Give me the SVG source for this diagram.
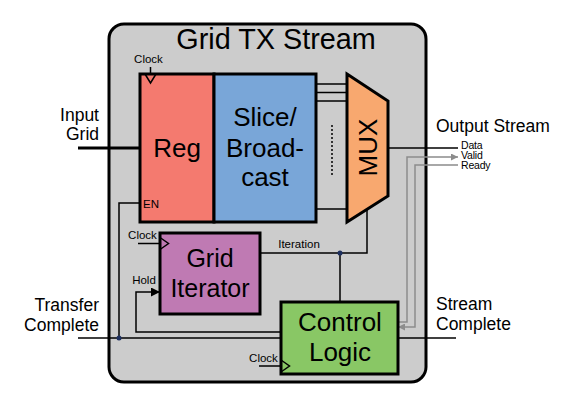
<svg xmlns="http://www.w3.org/2000/svg" width="570" height="413" viewBox="0 0 570 413">
<style>
text{font-family:"Liberation Sans",Arial,sans-serif;fill:#000}
.big{font-size:26px;text-anchor:middle}
.mid{font-size:17.5px}
.sm{font-size:11.5px}
.tiny{font-size:10.5px}
.box{stroke:#000;stroke-width:3}
.w{fill:none;stroke:#000;stroke-width:1.5}
.g{fill:none;stroke:#8c8c8c;stroke-width:1.5}
.clk{fill:none;stroke:#000;stroke-width:1.5}
</style>
<defs>
<marker id="ab" viewBox="0 0 10 10" refX="10" refY="5" markerWidth="10" markerHeight="9" markerUnits="userSpaceOnUse" orient="auto"><path d="M0,0 L10,5 L0,10 Z" fill="#000"/></marker>
<marker id="ag" viewBox="0 0 10 10" refX="10" refY="5" markerWidth="8" markerHeight="7" markerUnits="userSpaceOnUse" orient="auto"><path d="M0,0 L10,5 L0,10 Z" fill="#8c8c8c"/></marker>
</defs>
<g id="outer">
<rect x="109" y="24" width="317" height="358" rx="15" fill="#cccccc" stroke="#000" stroke-width="3"/>
<text x="276" y="49" style="font-size:28.8px;text-anchor:middle">Grid TX Stream</text>
</g>
<g id="connectors">
<path class="w" d="M78,148 H140" style="stroke-width:3"/>
<path class="w" d="M316,84 H347 M316,92.5 H347 M316,101 H347 M316,209 H347"/>
<path class="w" d="M332,125 V175" stroke-dasharray="2,2"/>
<path class="w" d="M388,148 H458"/>
<path class="g" d="M398,322 H407 V157 H458" marker-end="url(#ag)"/>
<path class="g" d="M458,165 H415 V327 H398" marker-end="url(#ag)"/>
<path class="w" d="M140,203 H119 V338"/>
<path class="w" d="M78,338 H281"/>
<path class="w" d="M281,332 H136 V292 H160" marker-end="url(#ab)"/>
<path class="w" d="M260,253 H367 V209.5"/>
<path class="w" d="M340,253 V302"/>
<path class="w" d="M398,338 H456"/>
<path class="w" d="M150.5,67 V74"/>
<path class="w" d="M138,243.5 H160"/>
<path class="w" d="M259,366 H281"/>
<circle cx="119" cy="338" r="2.5" fill="#1d2f5e"/>
<circle cx="340" cy="253" r="2.5" fill="#1d2f5e"/>
</g>
<g id="reg">
<rect class="box" x="140" y="74" width="74" height="148" fill="#f47a6f"/>
<path class="clk" d="M145,74 L150.5,83 L156,74"/>
<text class="big" x="177" y="157">Reg</text>
<text class="sm" x="143" y="208">EN</text>
</g>
<g id="slice">
<rect class="box" x="214" y="74" width="102" height="148" fill="#79a6d8"/>
<text class="big" x="265" y="126">Slice/</text>
<text class="big" x="265" y="157">Broad-</text>
<text class="big" x="265" y="186">cast</text>
</g>
<g id="mux">
<path class="box" d="M347,74 L388,101 L388,196 L347,222 Z" fill="#f8a86f" stroke-linejoin="miter"/>
<text class="big" transform="translate(377,147.5) rotate(-90)" x="0" y="0">MUX</text>
</g>
<g id="iterator">
<rect class="box" x="160" y="233" width="100" height="81" fill="#bf7ab3"/>
<path class="clk" d="M160,237.5 L168.5,243.5 L160,249.5"/>
<text class="big" x="210" y="267" style="font-size:25px">Grid</text>
<text class="big" x="210" y="297" style="font-size:25px">Iterator</text>
</g>
<g id="control">
<rect class="box" x="281" y="302" width="117" height="72" fill="#89c765"/>
<path class="clk" d="M281,360 L289.5,366 L281,372"/>
<text class="big" x="340" y="331">Control</text>
<text class="big" x="340" y="361">Logic</text>
</g>
<g id="labels">
<text class="sm" x="148.5" y="63" text-anchor="middle">Clock</text>
<text class="sm" x="142.5" y="239" text-anchor="middle">Clock</text>
<text class="sm" x="263.5" y="362" text-anchor="middle">Clock</text>
<text class="sm" x="144" y="284" text-anchor="middle">Hold</text>
<text class="sm" x="299" y="248" text-anchor="middle">Iteration</text>
<text class="mid" x="99" y="121" text-anchor="end">Input</text>
<text class="mid" x="99" y="140" text-anchor="end">Grid</text>
<text class="mid" x="99" y="311" text-anchor="end">Transfer</text>
<text class="mid" x="99" y="331" text-anchor="end">Complete</text>
<text class="mid" x="436" y="132">Output Stream</text>
<text class="mid" x="436" y="310">Stream</text>
<text class="mid" x="436" y="330">Complete</text>
<text class="tiny" x="461" y="149" letter-spacing="-0.2">Data</text>
<text class="tiny" x="461" y="159" letter-spacing="-0.2">Valid</text>
<text class="tiny" x="461" y="169" letter-spacing="-0.2">Ready</text>
</g>
</svg>
